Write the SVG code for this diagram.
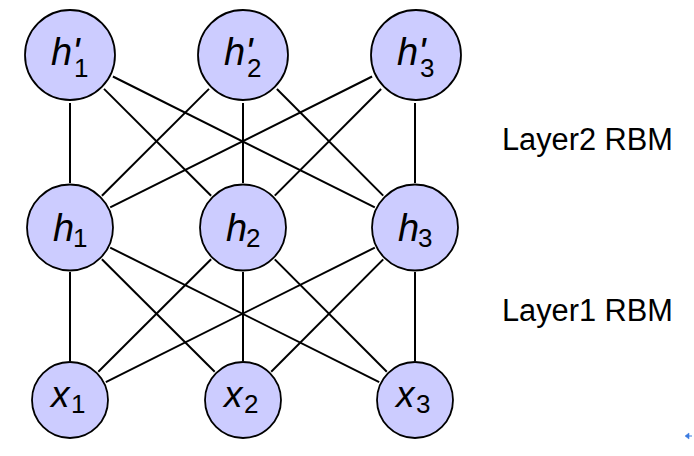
<svg xmlns="http://www.w3.org/2000/svg" width="694" height="456" viewBox="0 0 694 456">
  <style>
    .node { fill: #ccccff; stroke: #000; stroke-width: 1.8; }
    .edge { stroke: #000; stroke-width: 2; fill: none; }
    .var { font-family: "Liberation Sans", "DejaVu Sans", sans-serif; font-style: italic; font-size: 38px; fill: #000; }
    .xvar { font-family: "Liberation Sans", "DejaVu Sans", sans-serif; font-style: italic; font-size: 37px; fill: #000; }
    .sub { font-family: "Liberation Sans", "DejaVu Sans", sans-serif; font-style: normal; font-size: 26px; }
    .prime { font-family: "Liberation Sans", "DejaVu Sans", sans-serif; font-style: italic; font-size: 40px; }
    .label { font-family: "Liberation Sans", "DejaVu Sans", sans-serif; font-size: 31px; fill: #000; }
  </style>
  <rect width="694" height="456" fill="#fff"/>

  <!-- connectors: full bipartite links between adjacent layers -->
  <g id="edges" class="edge">
    <!-- top layer to hidden layer -->
    <line x1="70" y1="103" x2="70" y2="183"/>
    <line x1="243" y1="103" x2="243" y2="183"/>
    <line x1="415" y1="103" x2="415" y2="183"/>
    <line x1="104" y1="88.9" x2="211.1" y2="195.7"/>
    <line x1="112.9" y1="76.5" x2="374.8" y2="207.4"/>
    <line x1="209" y1="88.9" x2="101.9" y2="195.7"/>
    <line x1="276.9" y1="89" x2="383.2" y2="195.6"/>
    <line x1="372.1" y1="76.5" x2="110.2" y2="207.4"/>
    <line x1="381.1" y1="89" x2="274.8" y2="195.6"/>
    <!-- hidden layer to visible layer -->
    <line x1="70" y1="272" x2="70" y2="361"/>
    <line x1="243" y1="272" x2="243" y2="361"/>
    <line x1="415" y1="272" x2="415" y2="361"/>
    <line x1="101.9" y1="259.3" x2="214.7" y2="371.8"/>
    <line x1="110.2" y1="247.6" x2="379.2" y2="382.1"/>
    <line x1="211.1" y1="259.3" x2="98.3" y2="371.8"/>
    <line x1="274.8" y1="259.4" x2="386.8" y2="371.7"/>
    <line x1="374.8" y1="247.6" x2="105.8" y2="382.1"/>
    <line x1="383.2" y1="259.4" x2="271.2" y2="371.7"/>
  </g>

  <!-- second hidden layer -->
  <g id="hp1">
    <circle class="node" cx="70" cy="55" r="45"/>
    <text class="var" x="51" y="65">h<tspan class="prime" x="72" y="66">'</tspan><tspan class="sub" x="74" y="77">1</tspan></text>
  </g>
  <g id="hp2">
    <circle class="node" cx="243" cy="55" r="45"/>
    <text class="var" x="224" y="65">h<tspan class="prime" x="245" y="66">'</tspan><tspan class="sub" x="247" y="77">2</tspan></text>
  </g>
  <g id="hp3">
    <circle class="node" cx="416" cy="55" r="45"/>
    <text class="var" x="397" y="65">h<tspan class="prime" x="418" y="66">'</tspan><tspan class="sub" x="420" y="77">3</tspan></text>
  </g>

  <!-- first hidden layer -->
  <g id="h1">
    <circle class="node" cx="70" cy="227.5" r="43"/>
    <text class="var" x="53" y="241">h<tspan class="sub" x="73" y="247">1</tspan></text>
  </g>
  <g id="h2">
    <circle class="node" cx="243" cy="227.5" r="43"/>
    <text class="var" x="226" y="241">h<tspan class="sub" x="246" y="247">2</tspan></text>
  </g>
  <g id="h3">
    <circle class="node" cx="415" cy="227.5" r="43"/>
    <text class="var" x="398" y="241">h<tspan class="sub" x="418" y="247">3</tspan></text>
  </g>

  <!-- visible layer -->
  <g id="x1">
    <circle class="node" cx="70" cy="400" r="38"/>
    <text class="xvar" x="51" y="407">x<tspan class="sub" x="71" y="413">1</tspan></text>
  </g>
  <g id="x2">
    <circle class="node" cx="243" cy="400" r="38"/>
    <text class="xvar" x="224" y="407">x<tspan class="sub" x="244" y="413">2</tspan></text>
  </g>
  <g id="x3">
    <circle class="node" cx="415" cy="400" r="38"/>
    <text class="xvar" x="396" y="407">x<tspan class="sub" x="416" y="413">3</tspan></text>
  </g>

  <!-- layer captions -->
  <text class="label" x="502" y="150" textLength="171" lengthAdjust="spacingAndGlyphs">Layer2 RBM</text>
  <text class="label" x="502" y="321" textLength="171" lengthAdjust="spacingAndGlyphs">Layer1 RBM</text>

  <!-- small navigation arrow -->
  <g id="nav" fill="#3b7be0" stroke="#3b7be0">
    <path d="M685 436 L689 433 L689 439 Z" stroke-width="0.5"/>
    <line x1="688" y1="436" x2="692" y2="436" stroke-width="1"/>
  </g>
</svg>
